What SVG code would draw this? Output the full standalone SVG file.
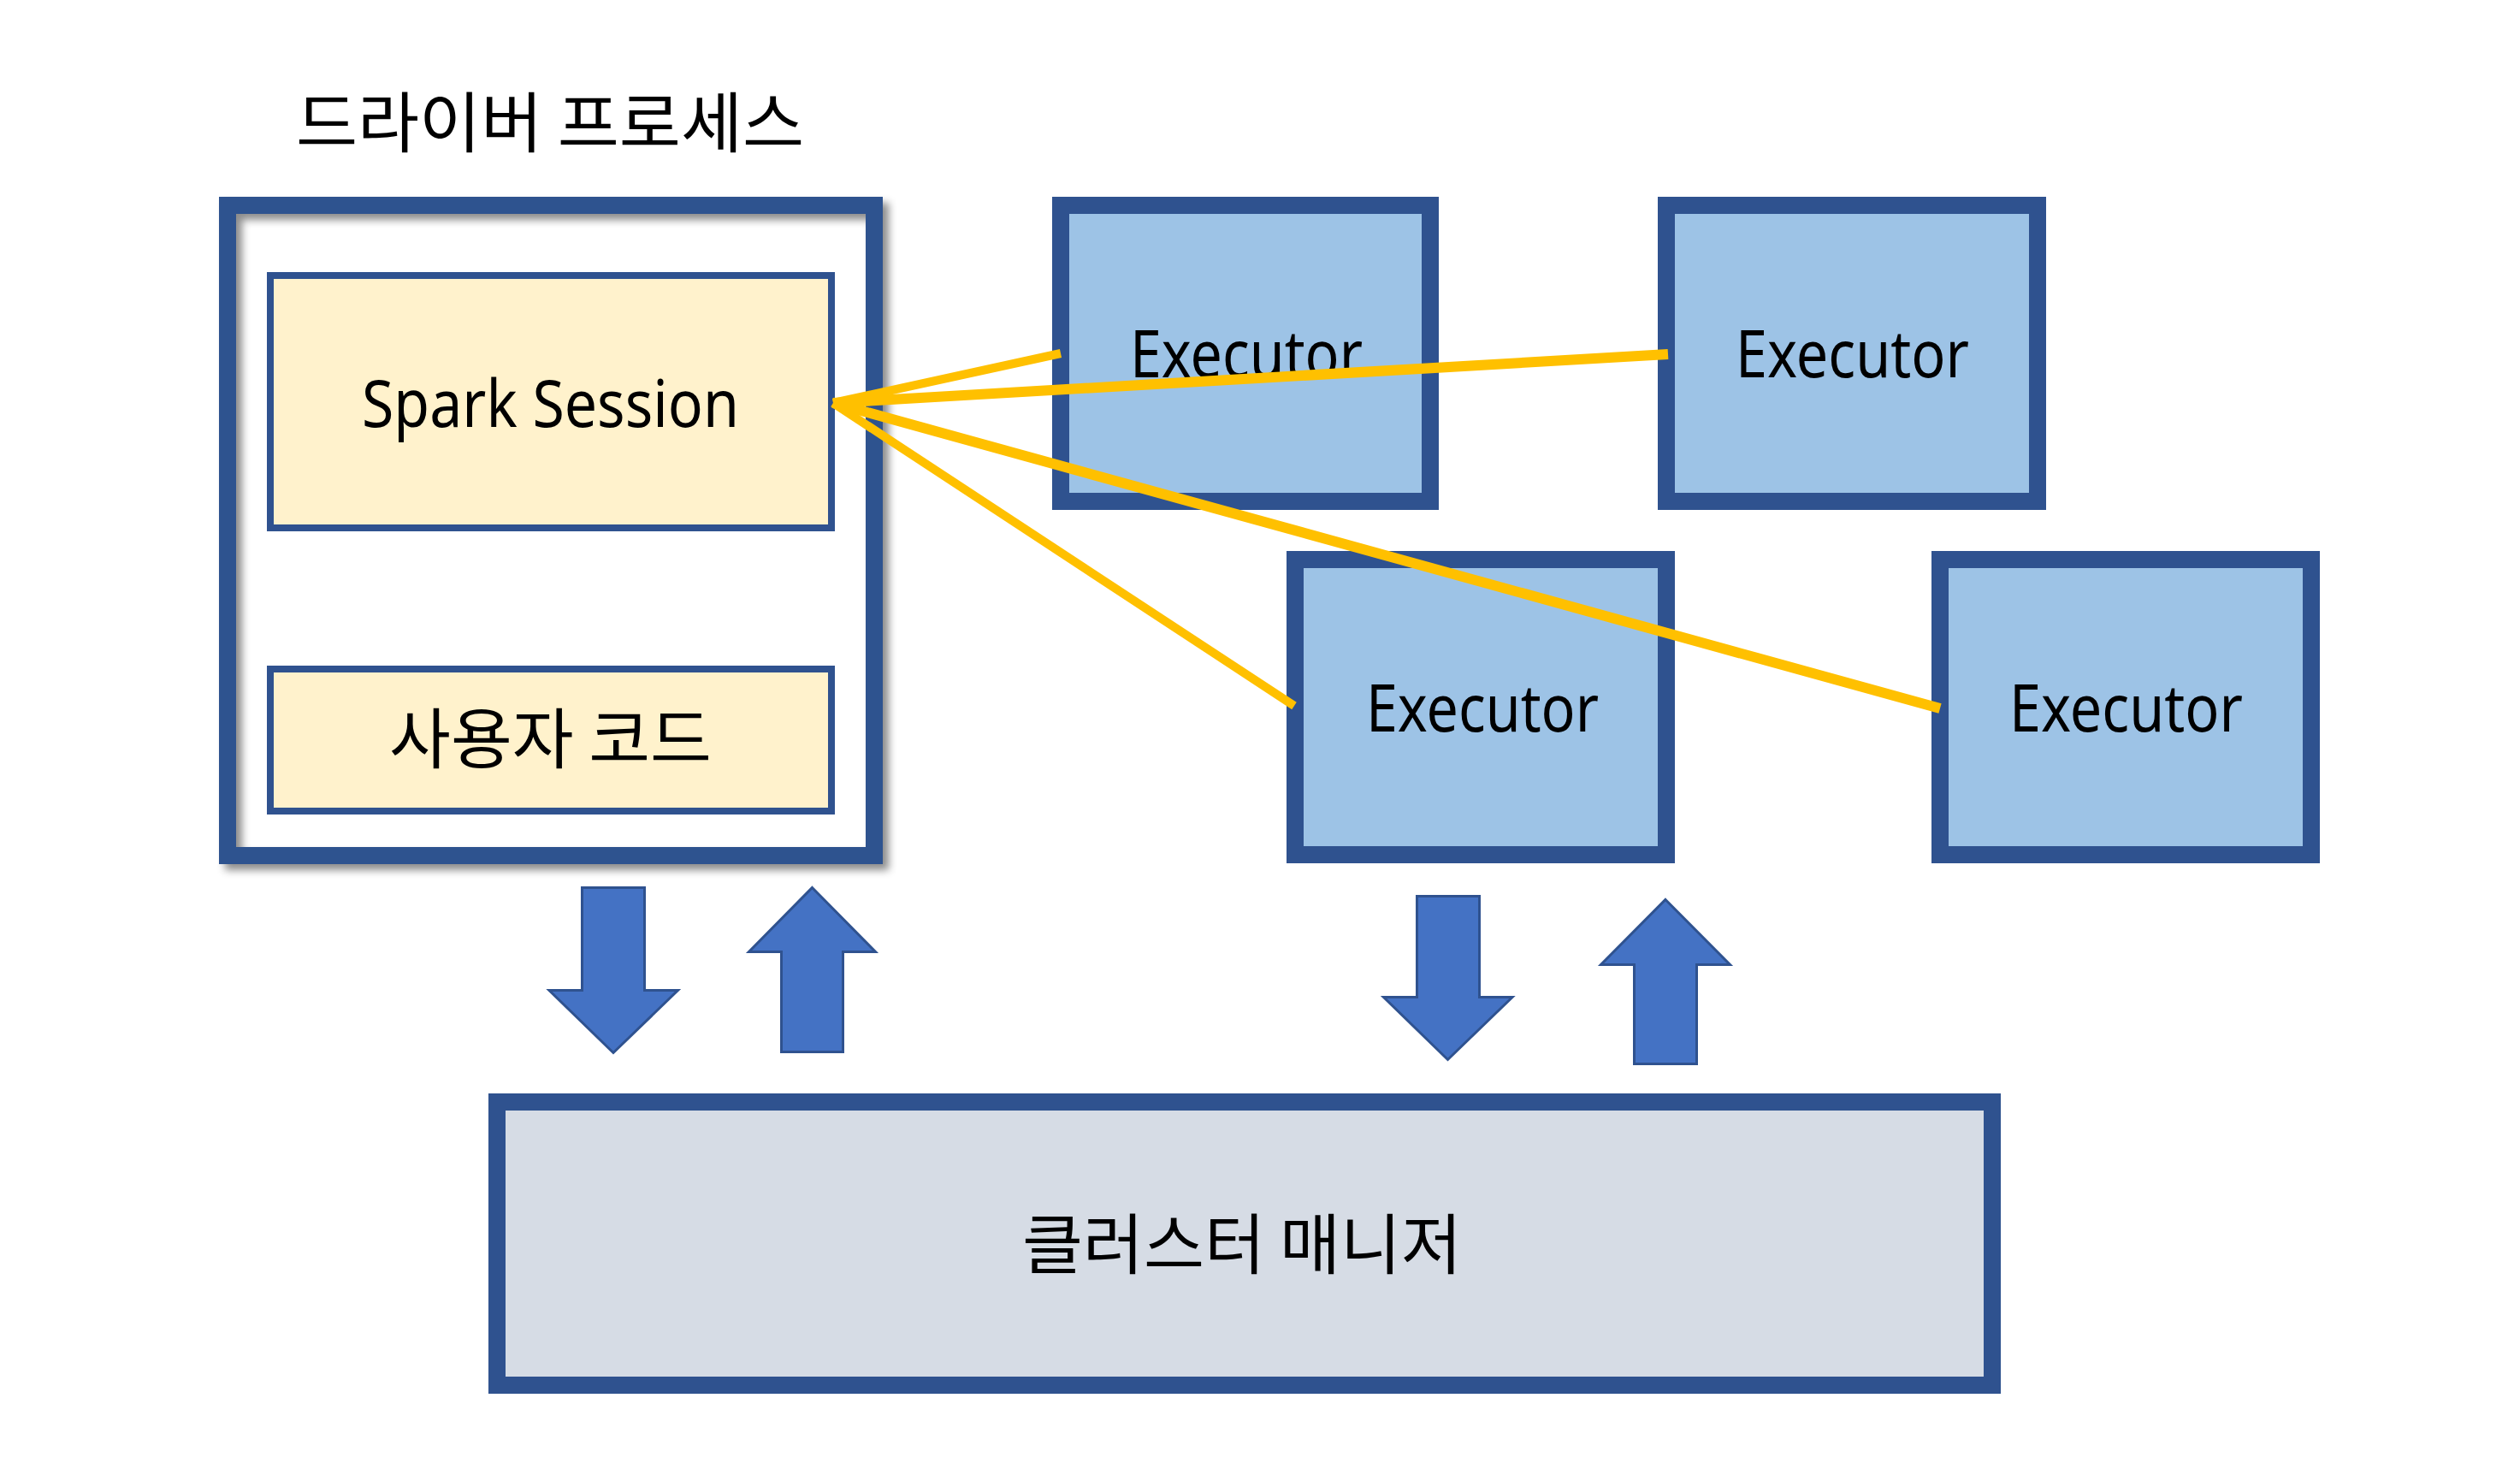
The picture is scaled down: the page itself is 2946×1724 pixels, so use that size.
<svg xmlns="http://www.w3.org/2000/svg" width="2946" height="1724" viewBox="0 0 2946 1724">
  <defs>
    <filter id="shadow" x="-10%" y="-10%" width="125%" height="125%">
      <feDropShadow dx="7" dy="7" stdDeviation="5" flood-color="#000000" flood-opacity="0.45"/>
    </filter>
  </defs>
  <style>
    .frame { stroke: #2F528F; stroke-width: 20; }
    .inner { stroke: #2F528F; stroke-width: 8; fill: #FFF2CC; }
    .exec { fill: #9DC3E6; }
    .cm { fill: #D6DCE5; }
    .lat { font-family: "Noto Sans", "Open Sans", "DejaVu Sans", sans-serif; font-size: 76px; fill: #000000; }
    .kr { font-family: "Noto Sans CJK KR", "Noto Sans", sans-serif; font-size: 77px; fill: #000000; }
    .yl { stroke: #FFC000; fill: none; stroke-linecap: butt; }
    .blk { fill: #4472C4; stroke: #2F528F; stroke-width: 3; stroke-linejoin: miter; }
  </style>
  <rect width="2946" height="1724" fill="#FFFFFF"/>

  <g id="driver">
    <text class="kr" x="346" y="172" textLength="594" lengthAdjust="spacingAndGlyphs">드라이버 프로세스</text>
    <rect class="frame" x="266" y="240" width="756" height="760" fill="none" filter="url(#shadow)"/>
  </g>

  <g id="spark-session">
    <rect class="inner" x="316" y="322" width="656" height="295"/>
    <text class="lat" x="423" y="499" textLength="441" lengthAdjust="spacingAndGlyphs">Spark Session</text>
  </g>

  <g id="user-code">
    <rect class="inner" x="316" y="782" width="656" height="166"/>
    <text class="kr" x="455" y="892" textLength="377" lengthAdjust="spacingAndGlyphs">사용자 코드</text>
  </g>

  <g id="executor-1">
    <rect class="frame exec" x="1240" y="240" width="432" height="346"/>
    <text class="lat" x="1321" y="441" textLength="272" lengthAdjust="spacingAndGlyphs">Executor</text>
  </g>
  <g id="executor-2">
    <rect class="frame exec" x="1948" y="240" width="434" height="346"/>
    <text class="lat" x="2029" y="441" textLength="273" lengthAdjust="spacingAndGlyphs">Executor</text>
  </g>
  <g id="executor-3">
    <rect class="frame exec" x="1514" y="654" width="434" height="345"/>
    <text class="lat" x="1597" y="855" textLength="272" lengthAdjust="spacingAndGlyphs">Executor</text>
  </g>
  <g id="executor-4">
    <rect class="frame exec" x="2268" y="654" width="434" height="345"/>
    <text class="lat" x="2349" y="855" textLength="273" lengthAdjust="spacingAndGlyphs">Executor</text>
  </g>

  <g id="cluster-manager">
    <rect class="frame cm" x="581" y="1288" width="1748" height="331"/>
    <text class="kr" x="1195" y="1483" textLength="514" lengthAdjust="spacingAndGlyphs">클러스터 매니저</text>
  </g>

  <g id="connectors">
    <line class="yl" stroke-width="10" x1="974" y1="471" x2="1240" y2="413"/>
    <line class="yl" stroke-width="12" x1="974" y1="471" x2="1950" y2="414"/>
    <line class="yl" stroke-width="10" x1="974" y1="471" x2="1513" y2="825"/>
    <line class="yl" stroke-width="12" x1="974" y1="471" x2="2268" y2="828"/>

    <path class="blk" d="M680.5,1037.5 H753.5 V1157.5 H792.5 L717,1230.5 L642,1157.5 H680.5 Z"/>
    <path class="blk" d="M949.5,1037.5 L1023.5,1112.5 H985.5 V1229.5 H913.5 V1112.5 H875.5 Z"/>
    <path class="blk" d="M1656.5,1047.5 H1729.5 V1165.5 H1768 L1692.5,1238.5 L1617.5,1165.5 H1656.5 Z"/>
    <path class="blk" d="M1947,1051.5 L2022.5,1127.5 H1983.5 V1243.5 H1910.5 V1127.5 H1871.5 Z"/>
  </g>
</svg>
